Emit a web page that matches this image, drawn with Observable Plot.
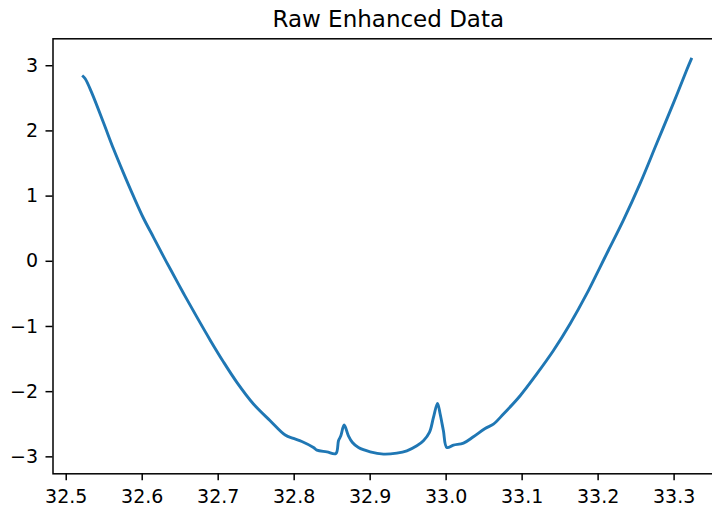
<!DOCTYPE html>
<html>
<head>
<meta charset="utf-8">
<script src="https://cdn.jsdelivr.net/npm/d3@7"></script>
<script src="https://cdn.jsdelivr.net/npm/@observablehq/plot@0.6"></script>
<style>
  html, body { margin: 0; padding: 0; background: #fff; overflow: hidden; }
  #chart svg { display: block; max-width: none !important; height: 508px !important; }
</style>
</head>
<body>
<div id="chart"></div>
<script>
const title = "Raw Enhanced Data";

const xValues = [
  32.5210, 32.5250, 32.5338, 32.5491, 32.5622, 32.5754, 32.5886, 32.6017, 32.6149, 32.6280,
  32.6368, 32.6543, 32.6720, 32.6895, 32.7070, 32.7246, 32.7464, 32.7684, 32.7882, 32.7991,
  32.8101, 32.8254, 32.8299, 32.8430, 32.8549, 32.8583, 32.8614, 32.8658, 32.8714, 32.8767,
  32.8846, 32.9000, 32.9175, 32.9351, 32.9483, 32.9614, 32.9701, 32.9780, 32.9833, 32.9886,
  32.9921, 32.9964, 33.0009, 33.0096, 33.0228, 33.0359, 33.0513, 33.0622, 33.0754, 33.0974,
  33.1193, 33.1412, 33.1632, 33.1851, 33.2026, 33.2136, 33.2333, 33.2553, 33.2772, 33.2991,
  33.3167, 33.3233
];

const yValues = [
  2.850, 2.800, 2.580, 2.125, 1.725, 1.352, 0.995, 0.660, 0.368, 0.075,
  -0.115, -0.490, -0.857, -1.210, -1.545, -1.857, -2.189, -2.446, -2.666, -2.718,
  -2.765, -2.857, -2.897, -2.923, -2.949, -2.754, -2.677, -2.512, -2.677, -2.780,
  -2.857, -2.923, -2.958, -2.943, -2.908, -2.831, -2.754, -2.626, -2.395, -2.180,
  -2.343, -2.600, -2.857, -2.820, -2.789, -2.692, -2.565, -2.497, -2.343, -2.062,
  -1.728, -1.369, -0.958, -0.497, -0.088, 0.169, 0.631, 1.195, 1.811, 2.426,
  2.938, 3.120
];

const xTicks = [32.5, 32.6, 32.7, 32.8, 32.9, 33.0, 33.1, 33.2, 33.3];
const yTicks = [-3, -2, -1, 0, 1, 2, 3];

const data = xValues.map((x, i) => ({x, y: yValues[i]}));

const W = 730, H = 508;
const chart = Plot.plot({
  width: W,
  height: H,
  marginLeft: 52.5,
  marginRight: W - 723,
  marginTop: 38.3,
  marginBottom: H - 473.3,
  style: {fontFamily: "'DejaVu Sans', sans-serif", fontSize: "19px", color: "black", background: "white", maxWidth: "none"},
  x: {domain: [32.4826, 33.365]},
  y: {domain: [-3.26, 3.413]},
  marks: [
    Plot.line(data, {x: "x", y: "y", stroke: "#1f77b4", strokeWidth: 2.9, strokeLinejoin: "round", strokeLinecap: "butt", curve: "catmull-rom"}),
    Plot.frame({stroke: "black", strokeWidth: 1.5}),
    Plot.axisX({ticks: xTicks, tickFormat: d3.format(".1f"), tickSize: 7, tickPadding: 9, strokeWidth: 1.5, label: null}),
    Plot.axisY({ticks: yTicks, tickFormat: d3.format("d"), tickSize: 7, tickPadding: 8, strokeWidth: 1.5, label: null}),
    Plot.text([title], {frameAnchor: "top", dy: -11.7, lineAnchor: "bottom", fontSize: 23, fill: "black"})
  ]
});
document.getElementById("chart").appendChild(chart);
</script>
</body>
</html>
